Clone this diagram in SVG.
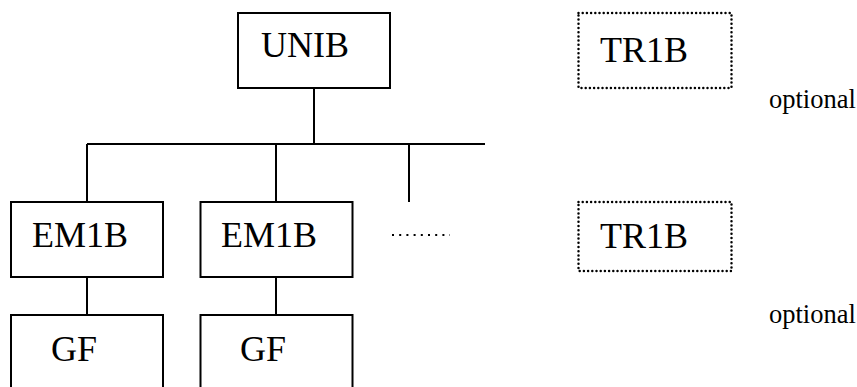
<svg xmlns="http://www.w3.org/2000/svg" width="857" height="387" viewBox="0 0 857 387">
<style>
.box{fill:#fff;stroke:#000;stroke-width:2}
.opt{fill:#fff;stroke:#000;stroke-width:2.5;stroke-dasharray:0 4.2;stroke-linecap:round}
.ln{stroke:#000;stroke-width:2;fill:none}
</style>
<rect width="857" height="387" fill="#fff"/>
<g id="connectors">
<line class="ln" x1="314" y1="88" x2="314" y2="144"/>
<line class="ln" x1="87" y1="144" x2="485" y2="144"/>
<line class="ln" x1="87" y1="144" x2="87" y2="202"/>
<line class="ln" x1="276" y1="144" x2="276" y2="202"/>
<line class="ln" x1="409" y1="144" x2="409" y2="202"/>
<line class="ln" x1="87" y1="277" x2="87" y2="315"/>
<line class="ln" x1="276" y1="277" x2="276" y2="315"/>
<line x1="392" y1="235" x2="450" y2="235" stroke="#000" stroke-width="2" stroke-dasharray="2 5.2"/>
</g>
<g font-family="Liberation Serif, DejaVu Serif, serif" font-size="36" fill="#000">
<g id="unib">
<rect class="box" x="238" y="13" width="152" height="75"/>
<text x="261" y="57">UNIB</text>
</g>
<g id="tr1b-top">
<rect class="opt" x="578.5" y="13" width="153" height="75"/>
<text x="600" y="62">TR1B</text>
</g>
<text id="optional-top" font-size="26.5" x="769" y="108">optional</text>
<g id="em1b-1">
<rect class="box" x="11" y="202" width="152" height="75"/>
<text x="32" y="247">EM1B</text>
</g>
<g id="em1b-2">
<rect class="box" x="200.5" y="202" width="152" height="75"/>
<text x="221" y="247">EM1B</text>
</g>
<g id="tr1b-bottom">
<rect class="opt" x="578.5" y="202" width="153" height="69"/>
<text x="600" y="248">TR1B</text>
</g>
<text id="optional-bottom" font-size="26.5" x="769" y="323">optional</text>
<g id="gf-1">
<rect class="box" x="11" y="315" width="152" height="85"/>
<text x="51" y="361">GF</text>
</g>
<g id="gf-2">
<rect class="box" x="200.5" y="315" width="152" height="85"/>
<text x="240" y="361">GF</text>
</g>
</g>
</svg>
